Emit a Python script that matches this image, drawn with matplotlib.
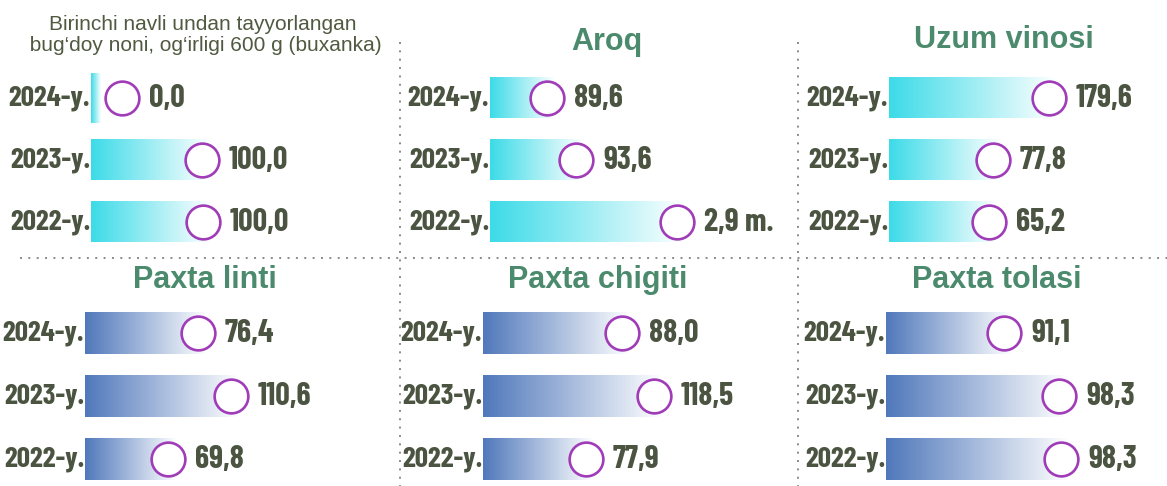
import matplotlib
matplotlib.use('Agg')
import matplotlib.pyplot as plt
import numpy as np
from matplotlib.colors import LinearSegmentedColormap
from matplotlib.lines import Line2D

W, H = 1167, 486

# --- data ---
years = ['2024-y.', '2023-y.', '2022-y.']

titles = [
    'Birinchi navli undan tayyorlangan\n bug\u2018doy noni, og\u2018irligi 600 g (buxanka)',
    'Aroq', 'Uzum vinosi',
    'Paxta linti', 'Paxta chigiti', 'Paxta tolasi',
]

bread_vals = ['0,0', '100,0', '100,0']
aroq_vals = ['89,6', '93,6', '2,9 m.']
wine_vals = ['179,6', '77,8', '65,2']
lint_vals = ['76,4', '110,6', '69,8']
seed_vals = ['88,0', '118,5', '77,9']
fiber_vals = ['91,1', '98,3', '98,3']

# bar lengths as drawn in the infographic (not proportional to labels)
bread_len = [10, 119, 120]
aroq_len = [65, 94, 195]
wine_len = [168, 112, 108]
lint_len = [121, 154, 91]
seed_len = [147, 179, 111]
fiber_len = [126, 181, 183]

panels = [
    (bread_vals, bread_len), (aroq_vals, aroq_len), (wine_vals, wine_len),
    (lint_vals, lint_len), (seed_vals, seed_len), (fiber_vals, fiber_len),
]

# --- styling / layout ---
CYAN = '#3cdbe8'
BLUE = '#5078bb'
PURPLE = '#a03cb8'
TEXT = '#4a5441'
TITLE = '#4b8a6c'
NUM_FONT = ['Barlow Condensed', 'DejaVu Sans']
TITLE_FONT = ['Liberation Sans', 'DejaVu Sans']

bar_x0 = [91, 490, 889, 85, 483, 886]      # px, left edge of bars
row_top = [67, 67, 67, 302, 302, 302]       # px, top of the axes area
row_h = [62, 62, 62, 63, 63, 63]            # px per row
title_pos = [(203, 35), (607, 42), (1004, 40), (205, 280), (598, 280), (997, 280)]

fig = plt.figure(figsize=(W / 100, H / 100), dpi=100)
fig.patch.set_facecolor('white')

for i, (vals, lens) in enumerate(panels):
    x0, top, rh = bar_x0[i], row_top[i], row_h[i]
    ax = fig.add_axes([x0 / W, 1 - (top + 3 * rh) / H, 270 / W, 3 * rh / H])
    ax.axis('off')
    cmap = LinearSegmentedColormap.from_list('g', [CYAN if i < 3 else BLUE, '#ffffff'])
    grad = np.linspace(0, 1, 256).reshape(1, -1)
    for j, (v, L) in enumerate(zip(vals, lens)):
        y = 2 - j
        h = 0.66
        if i == 0 and j == 0:
            h = 0.8
        ax.imshow(grad, cmap=cmap, extent=[0, L, y - h / 2, y + h / 2],
                  aspect='auto', interpolation='bilinear', zorder=1)
        cx = max(L - 8, 31)
        ax.scatter([cx], [y], s=590, facecolor='white', edgecolor=PURPLE,
                   linewidth=1.9, zorder=3, clip_on=False)
        ax.text(cx + 27, y, v, ha='left', va='center', fontsize=23,
                fontweight='bold', color=TEXT, family=NUM_FONT, clip_on=False)
        ax.text(-1, y, years[j], ha='right', va='center', fontsize=21,
                fontweight='bold', color=TEXT, family=NUM_FONT, clip_on=False)
    ax.set_xlim(0, 270)
    ax.set_ylim(-0.5, 2.5)

    tx, ty = title_pos[i]
    if i == 0:
        fig.text(tx / W, 1 - ty / H, titles[i], ha='center', va='center',
                 fontsize=15, color='#4f5a40', family=TITLE_FONT,
                 linespacing=1.15)
    else:
        fig.text(tx / W, 1 - ty / H, titles[i], ha='center', va='center',
                 fontsize=22, fontweight='bold', color=TITLE, family=TITLE_FONT)

# dotted separators
dot = dict(color='#8a8a8a', linewidth=1.4, linestyle=(0, (1, 3.3)),
           dash_capstyle='butt')
fig.add_artist(Line2D([20 / W, 1], [1 - 258 / H, 1 - 258 / H], **dot))
for vx in (400, 798):
    fig.add_artist(Line2D([vx / W, vx / W], [1 - 42 / H, 0], **dot))

fig.savefig('out.png', dpi=100, facecolor='white')
